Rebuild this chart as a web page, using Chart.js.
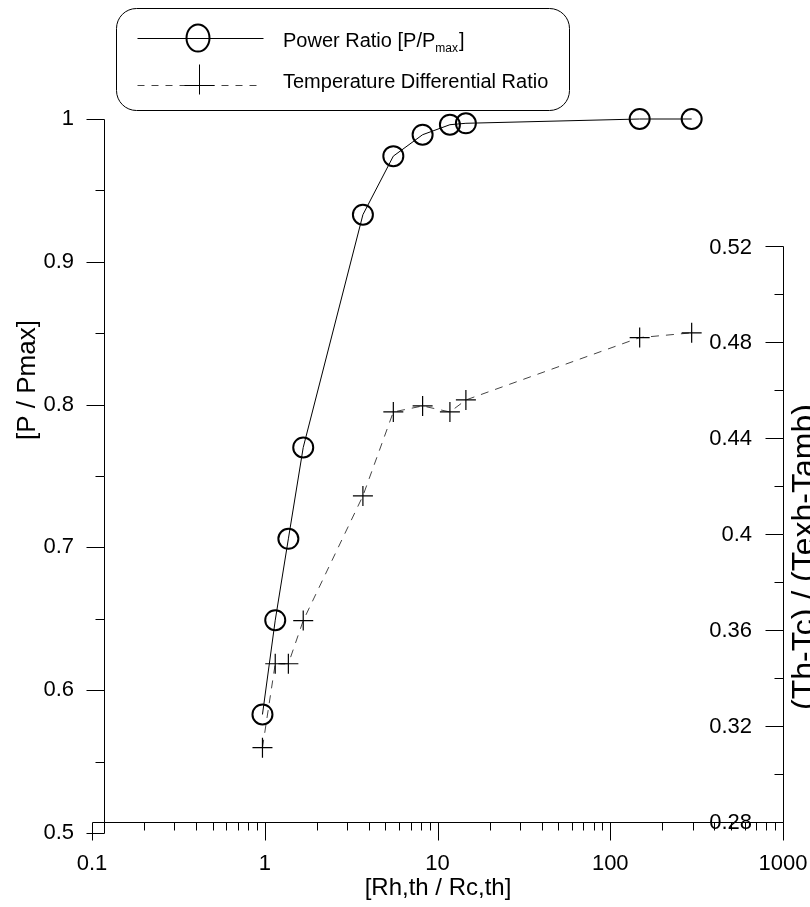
<!DOCTYPE html>
<html>
<head>
<meta charset="utf-8">
<script src="https://cdn.jsdelivr.net/npm/chart.js@4.4.1/dist/chart.umd.min.js"></script>
<style>
  html, body { margin: 0; padding: 0; background: #fff; }
  #wrap { position: relative; width: 810px; height: 907px; }
</style>
</head>
<body>
<div id="wrap"><canvas id="ratioChart"></canvas></div>
<script>
// Rh,th / Rc,th values (shared x)
const resistanceRatio = [0.97, 1.15, 1.37, 1.67, 3.7, 5.55, 8.2, 11.8, 14.6, 148, 296];
// P / Pmax
const powerRatio = [0.583, 0.649, 0.706, 0.770, 0.933, 0.974, 0.989, 0.996, 0.997, 1.0, 1.0];
// (Th-Tc) / (Texh-Tamb)
const tempDiffRatio = [0.311, 0.346, 0.346, 0.364, 0.416, 0.451, 0.4535, 0.451, 0.456, 0.482, 0.484];

const xTicks = [0.1, 1, 10, 100, 1000];
const xTickLabels = ['0.1', '1', '10', '100', '1000'];
const leftTicks = [0.5, 0.6, 0.7, 0.8, 0.9, 1];
const leftTickLabels = ['0.5', '0.6', '0.7', '0.8', '0.9', '1'];
const rightTicks = [0.28, 0.32, 0.36, 0.4, 0.44, 0.48, 0.52];
const rightTickLabels = ['0.28', '0.32', '0.36', '0.4', '0.44', '0.48', '0.52'];

const FONT = '"Liberation Sans", Arial, sans-serif';

function toPoints(xs, ys) {
    return xs.map((x, i) => ({ x: x, y: ys[i] }));
}

// axes are offset like the original plot, so they are drawn here by hand
const axesPlugin = {
    id: 'axesPlugin',
    afterDraw(chart) {
        const ctx = chart.ctx;
        const xs = chart.scales.x;
        const yl = chart.scales.y;
        const yr = chart.scales.y2;
        const axisY = yr.getPixelForValue(0.28);
        const leftX = xs.getPixelForValue(0.1) + 12;
        const rightX = xs.getPixelForValue(1000);

        ctx.save();
        ctx.strokeStyle = '#000';
        ctx.lineWidth = 1;
        ctx.fillStyle = '#000';

        function line(x1, y1, x2, y2) {
            ctx.beginPath();
            ctx.moveTo(Math.round(x1) + 0.5, Math.round(y1) + 0.5);
            ctx.lineTo(Math.round(x2) + 0.5, Math.round(y2) + 0.5);
            ctx.stroke();
        }

        // x axis
        line(xs.getPixelForValue(0.1), axisY, rightX, axisY);
        ctx.font = '22px ' + FONT;
        ctx.textAlign = 'center';
        ctx.textBaseline = 'middle';
        for (let d = 0; d < xTicks.length; d++) {
            const px = xs.getPixelForValue(xTicks[d]);
            line(px, axisY, px, axisY + 18);
            ctx.fillText(xTickLabels[d], px, axisY + 42);
            if (d < xTicks.length - 1) {
                for (let m = 2; m <= 9; m++) {
                    const mx = xs.getPixelForValue(xTicks[d] * m);
                    line(mx, axisY, mx, axisY + 8);
                }
            }
        }

        // left y axis
        line(leftX, yl.getPixelForValue(1), leftX, yl.getPixelForValue(0.5));
        ctx.textAlign = 'right';
        leftTicks.forEach((v, i) => {
            const py = yl.getPixelForValue(v);
            line(leftX - 18, py, leftX, py);
            ctx.fillText(leftTickLabels[i], leftX - 30, py);
            if (i < leftTicks.length - 1) {
                const mp = yl.getPixelForValue(v + 0.05);
                line(leftX - 9, mp, leftX, mp);
            }
        });

        // right y axis
        line(rightX, yr.getPixelForValue(0.52), rightX, axisY);
        rightTicks.forEach((v, i) => {
            const py = yr.getPixelForValue(v);
            line(rightX - 18, py, rightX, py);
            ctx.fillText(rightTickLabels[i], rightX - 31, py + 1);
            if (i < rightTicks.length - 1) {
                const mp = yr.getPixelForValue(v + 0.02);
                line(rightX - 9, mp, rightX, mp);
            }
        });

        // axis titles
        ctx.textAlign = 'center';
        ctx.font = '24px ' + FONT;
        ctx.fillText('[Rh,th / Rc,th]', 438, 888);
        ctx.save();
        ctx.translate(28, 380);
        ctx.rotate(-Math.PI / 2);
        ctx.font = '26px ' + FONT;
        ctx.fillText('[P / Pmax]', 0, 0);
        ctx.restore();
        ctx.save();
        ctx.translate(814, 557);
        ctx.rotate(-Math.PI / 2);
        ctx.font = '32px ' + FONT;
        ctx.textBaseline = 'alphabetic';
        ctx.fillText('(Th-Tc) / (Texh-Tamb)', 0, 0);
        ctx.restore();

        // legend box
        ctx.beginPath();
        ctx.roundRect(116.5, 8.5, 453, 102, 20);
        ctx.stroke();
        line(137, 38, 263, 38);
        ctx.lineWidth = 2;
        ctx.beginPath();
        ctx.ellipse(198, 38, 11.5, 13.5, 0, 0, Math.PI * 2);
        ctx.stroke();
        ctx.lineWidth = 1;
        ctx.strokeStyle = '#444';
        ctx.setLineDash([7, 7]);
        line(137, 85, 263, 85);
        ctx.setLineDash([]);
        ctx.strokeStyle = '#000';
        line(184, 85, 214, 85);
        line(199, 64, 199, 94);

        ctx.textAlign = 'left';
        ctx.textBaseline = 'alphabetic';
        ctx.font = '20px ' + FONT;
        const t1 = 'Power Ratio [P/P';
        ctx.fillText(t1, 283, 47);
        let w = ctx.measureText(t1).width;
        ctx.font = '12px ' + FONT;
        ctx.fillText('max', 283 + w, 52);
        const w2 = ctx.measureText('max').width;
        ctx.font = '20px ' + FONT;
        ctx.fillText(']', 283 + w + w2 + 1, 47);
        ctx.fillText('Temperature Differential Ratio', 283, 88);
        ctx.restore();
    }
};

const ctx = document.getElementById('ratioChart').getContext('2d');
new Chart(ctx, {
    type: 'line',
    data: {
        datasets: [{
            label: 'Power Ratio [P/Pmax]',
            data: toPoints(resistanceRatio, powerRatio),
            yAxisID: 'y',
            borderColor: '#000',
            borderWidth: 1,
            pointStyle: 'circle',
            pointRadius: 10,
            pointBorderWidth: 2,
            pointBorderColor: '#000',
            pointBackgroundColor: 'rgba(0,0,0,0)',
            tension: 0,
            clip: false
        }, {
            label: 'Temperature Differential Ratio',
            data: toPoints(resistanceRatio, tempDiffRatio),
            yAxisID: 'y2',
            borderColor: '#444',
            borderWidth: 1,
            borderDash: [8, 7],
            pointStyle: 'cross',
            pointRadius: 10,
            pointBorderWidth: 1.2,
            pointBorderColor: '#000',
            tension: 0,
            clip: false
        }]
    },
    options: {
        responsive: true,
        maintainAspectRatio: false,
        animation: false,
        events: [],
        layout: {
            padding: { left: 92, top: 119, right: 27, bottom: 74 }
        },
        scales: {
            x: { type: 'logarithmic', min: 0.1, max: 1000, display: false },
            y: { type: 'linear', min: 0.5, max: 1, display: false },
            y2: { type: 'linear', min: 0.27541, max: 0.57317, display: false }
        },
        plugins: {
            legend: { display: false },
            tooltip: { enabled: false }
        }
    },
    plugins: [axesPlugin]
});
</script>
</body>
</html>
